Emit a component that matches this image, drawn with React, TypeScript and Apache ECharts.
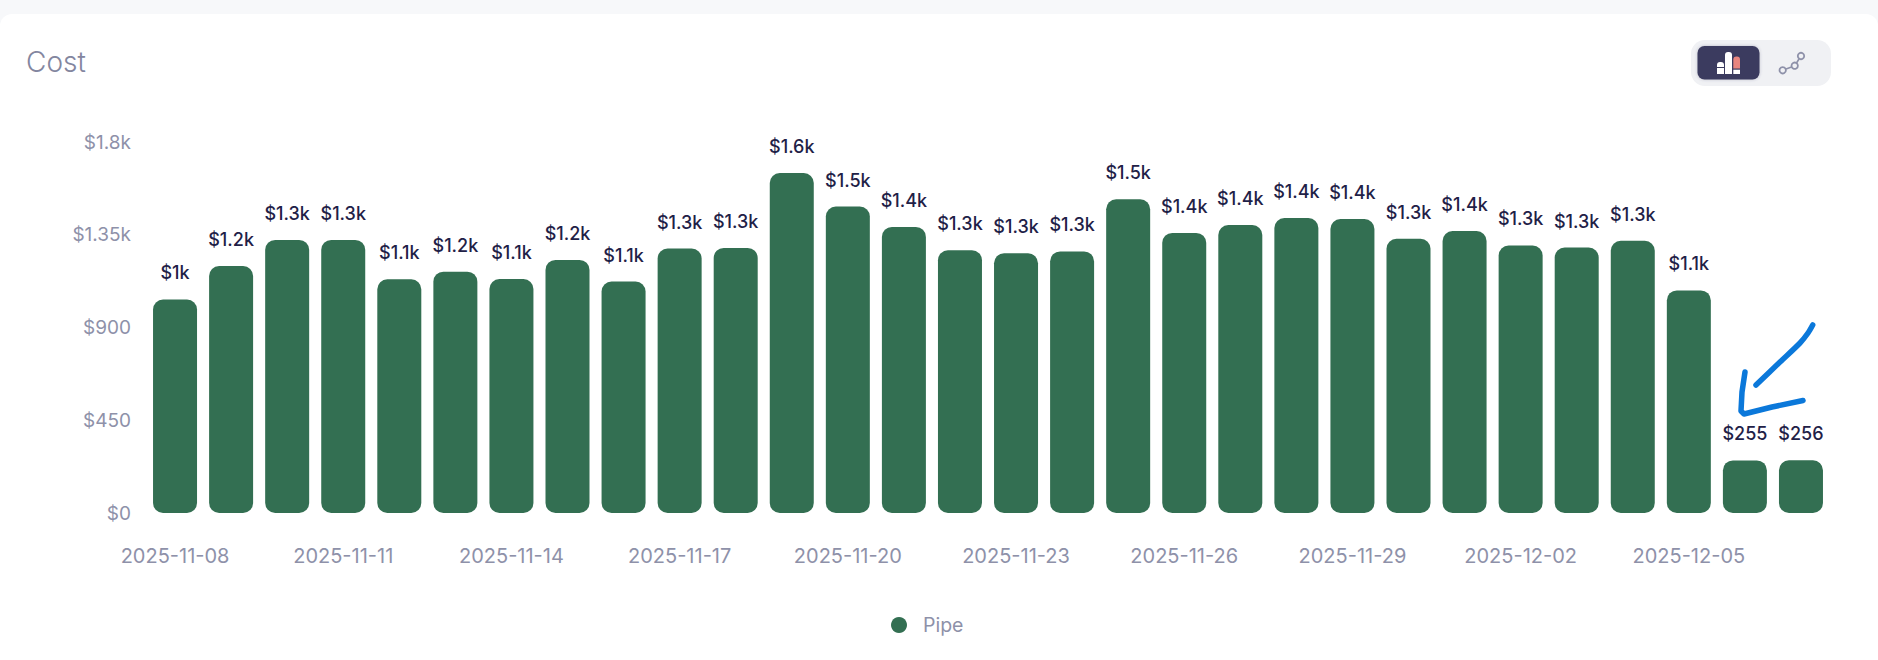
import React, { useEffect, useRef } from "react";
import * as echarts from "echarts";

const categories = [
  "2025-11-08","2025-11-09","2025-11-10","2025-11-11","2025-11-12","2025-11-13",
  "2025-11-14","2025-11-15","2025-11-16","2025-11-17","2025-11-18","2025-11-19",
  "2025-11-20","2025-11-21","2025-11-22","2025-11-23","2025-11-24","2025-11-25",
  "2025-11-26","2025-11-27","2025-11-28","2025-11-29","2025-11-30","2025-12-01",
  "2025-12-02","2025-12-03","2025-12-04","2025-12-05","2025-12-06","2025-12-07",
];
const pipe = [
  1036,1198,1325,1325,1134,1171,1135,1228,1123,1283,1286,1649,1487,1388,1275,
  1260,1269,1522,1359,1397,1431,1426,1330,1368,1298,1288,1321,1080,255,256,
];
const FONT = "Inter";
const GREY = "#8e91a9";
const INK = "#1f2147";
const GREEN = "#336f52";

const money = (v: number) => {
  if (v >= 1000) {
    const digits = v % 1000 === 0 ? 0 : v % 100 === 0 ? 1 : 2;
    return "$" + (v / 1000).toFixed(digits) + "k";
  }
  return "$" + v;
};
const moneyLabel = (v: number) => {
  if (v >= 1000) return "$" + parseFloat((v / 1000).toFixed(1)) + "k";
  return "$" + v;
};

export default function App() {
  const ref = useRef<HTMLDivElement>(null);
  useEffect(() => {
    const chart = echarts.init(ref.current!, undefined, { renderer: "svg" });
    const white = { fill: "#ffffff" };
    const ring = { fill: "none", stroke: GREY, lineWidth: 1.8 };
    chart.setOption({
      animation: false,
      backgroundColor: "#f7f8fa",
      textStyle: { fontFamily: FONT },
      grid: { left: 147, top: 142, width: 1682, height: 371 },
      graphic: [
        { type: "rect", z: -10, shape: { x: 0, y: 14, width: 1878, height: 660, r: 12 }, style: { fill: "#ffffff" } },
        { type: "text", x: 26, y: 48, style: { text: "Cost", fill: "#83869f", fontSize: 28, fontWeight: 300, fontFamily: FONT } },
        { type: "rect", shape: { x: 1691, y: 40, width: 140, height: 46, r: 14 }, style: { fill: "#f0f1f4" } },
        { type: "rect", shape: { x: 1697.5, y: 46, width: 62, height: 33.5, r: 7 }, style: { fill: "#3a3a5e", shadowBlur: 3, shadowColor: "rgba(58,58,94,0.3)" } },
        { type: "rect", shape: { x: 1717, y: 62, width: 7, height: 5, r: [3, 3, 0, 0] }, style: white },
        { type: "rect", shape: { x: 1717, y: 68, width: 7, height: 6 }, style: white },
        { type: "rect", shape: { x: 1725, y: 52, width: 7, height: 22, r: [3, 3, 0, 0] }, style: white },
        { type: "rect", shape: { x: 1733.3, y: 56.5, width: 6.7, height: 12, r: [3, 3, 0, 0] }, style: { fill: "#e8857f" } },
        { type: "rect", shape: { x: 1733.3, y: 69.7, width: 6.7, height: 4.3 }, style: white },
        { type: "circle", shape: { cx: 1782.7, cy: 70.3, r: 3.2 }, style: ring },
        { type: "circle", shape: { cx: 1794.7, cy: 65.7, r: 3.2 }, style: ring },
        { type: "circle", shape: { cx: 1801, cy: 56, r: 3.2 }, style: ring },
        { type: "line", shape: { x1: 1786, y1: 69, x2: 1791.5, y2: 67 }, style: { stroke: GREY, lineWidth: 1.6 } },
        { type: "line", shape: { x1: 1796.5, y1: 63, x2: 1799, y2: 59 }, style: { stroke: GREY, lineWidth: 1.6 } },
        {
          type: "polyline", z: 20,
          shape: { points: [[1812.7, 325], [1808, 333], [1800, 343], [1780, 362], [1756, 385]], smooth: 0.3 },
          style: { fill: "none", stroke: "#0b78da", lineWidth: 5.5, lineCap: "round", lineJoin: "round" },
        },
        {
          type: "polyline", z: 20,
          shape: { points: [[1745, 372], [1742, 392], [1741, 411], [1744, 414], [1772, 407], [1803, 400.5]] },
          style: { fill: "none", stroke: "#0b78da", lineWidth: 5.5, lineCap: "round", lineJoin: "round" },
        },
      ],
      legend: {
        show: true,
        left: 886,
        top: 610,
        icon: "circle",
        itemWidth: 16,
        itemHeight: 16,
        itemGap: 10,
        textStyle: { color: GREY, fontSize: 19.5, fontFamily: FONT, padding: [0, 0, 0, 11] },
        data: ["Pipe"],
      },
      xAxis: {
        type: "category",
        data: categories,
        axisLine: { show: false },
        axisTick: { show: false },
        axisLabel: { interval: 2, color: GREY, fontSize: 20, fontFamily: FONT, margin: 33, hideOverlap: false },
      },
      yAxis: {
        type: "value",
        min: 0,
        max: 1800,
        interval: 450,
        splitLine: { show: false },
        axisLine: { show: false },
        axisTick: { show: false },
        axisLabel: { color: GREY, fontSize: 19, fontFamily: FONT, margin: 16, formatter: money },
      },
      series: [
        {
          name: "Pipe",
          type: "bar",
          data: pipe,
          barWidth: 44,
          itemStyle: { color: GREEN, borderRadius: 10 },
          label: {
            show: true,
            position: "top",
            distance: 17.5,
            color: INK,
            fontSize: 18,
            fontWeight: 500,
            fontFamily: FONT,
            formatter: (p: any) => moneyLabel(p.value),
          },
        },
      ],
    });
    return () => chart.dispose();
  }, []);
  return <div ref={ref} style={{ position: "absolute", left: 0, top: 0, width: 1878, height: 660 }} />;
}
